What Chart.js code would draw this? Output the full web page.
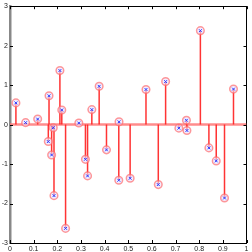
<!DOCTYPE html>
<html>
<head>
<meta charset="utf-8">
<script src="https://cdn.jsdelivr.net/npm/chart.js@4/dist/chart.umd.min.js"></script>
<style>
  html, body { margin: 0; padding: 0; background: #fff; }
  #wrap { width: 252px; height: 252px; }
</style>
</head>
<body>
<div id="wrap"><canvas id="c" width="252" height="252"></canvas></div>
<script>
const stemX = [0.025, 0.066, 0.117, 0.162, 0.165, 0.176, 0.183, 0.186, 0.211, 0.219, 0.235,
               0.291, 0.319, 0.328, 0.346, 0.377, 0.408, 0.460, 0.461, 0.508, 0.575, 0.627,
               0.658, 0.714, 0.746, 0.748, 0.805, 0.841, 0.872, 0.907, 0.945];
const stemY = [0.55, 0.05, 0.14, -0.43, 0.73, -0.77, -0.08, -1.80, 1.37, 0.37, -2.63,
               0.04, -0.88, -1.30, 0.38, 0.97, -0.64, -1.41, 0.07, -1.36, 0.89, -1.52,
               1.09, -0.09, 0.11, -0.15, 2.38, -0.59, -0.92, -1.86, 0.90];
const xTicks = [0, 0.1, 0.2, 0.3, 0.4, 0.5, 0.6, 0.7, 0.8, 0.9, 1];
const yTicks = [-3, -2, -1, 0, 1, 2, 3];

// stems as one line dataset, broken by gaps
const stems = [];
stemX.forEach((x, i) => {
    stems.push({x: x, y: 0});
    stems.push({x: x, y: stemY[i]});
    stems.push({x: x, y: null});
});
const points = stemX.map((x, i) => ({x: x, y: stemY[i]}));

// MATLAB style ticks pointing into the box
const innerTicks = {
    id: 'innerTicks',
    afterDraw(chart) {
        const {ctx, chartArea: a, scales} = chart;
        ctx.save();
        ctx.strokeStyle = '#000';
        ctx.lineWidth = 1;
        ctx.beginPath();
        xTicks.forEach(v => {
            const px = Math.round(scales.x.getPixelForValue(v)) + 0.5;
            ctx.moveTo(px, a.bottom); ctx.lineTo(px, a.bottom - 3);
            ctx.moveTo(px, a.top); ctx.lineTo(px, a.top + 3);
        });
        yTicks.forEach(v => {
            const py = Math.round(scales.y.getPixelForValue(v)) + 0.5;
            ctx.moveTo(a.left, py); ctx.lineTo(a.left + 3, py);
            ctx.moveTo(a.right, py); ctx.lineTo(a.right - 3, py);
        });
        ctx.stroke();
        ctx.restore();
    }
};

const tickFont = {family: 'Liberation Sans', size: 7};
const noGrid = {display: false, drawTicks: false};

new Chart(document.getElementById('c'), {
    type: 'scatter',
    data: {
        datasets: [
            {
                type: 'scatter',
                data: points,
                pointStyle: 'crossRot',
                pointRadius: 2,
                borderColor: '#2a3cff',
                borderWidth: 1,
                order: 0
            },
            {
                type: 'scatter',
                data: points,
                pointStyle: 'circle',
                pointRadius: 3.8,
                borderColor: 'rgba(255,100,100,0.65)',
                backgroundColor: 'rgba(235,225,255,0.6)',
                borderWidth: 1.5,
                order: 1
            },
            {
                type: 'line',
                data: stems,
                borderColor: 'rgba(255,30,30,0.9)',
                borderWidth: 1.5,
                pointRadius: 0,
                spanGaps: false,
                order: 2
            },
            {
                type: 'line',
                data: [{x: 0, y: 0}, {x: 1, y: 0}],
                borderColor: 'rgba(255,120,120,0.85)',
                borderWidth: 2.5,
                pointRadius: 0,
                order: 3
            }
        ]
    },
    options: {
        responsive: false,
        devicePixelRatio: 1,
        animation: false,
        layout: {padding: 0},
        plugins: {legend: {display: false}, tooltip: {enabled: false}},
        scales: {
            x: {
                type: 'linear', position: 'bottom', min: 0, max: 1,
                afterBuildTicks: s => { s.ticks = xTicks.map(v => ({value: v})); },
                afterFit: s => { s.height = 9; },
                ticks: {font: tickFont, color: '#222', padding: 2, maxRotation: 0,
                        callback: v => String(v)},
                grid: noGrid,
                border: {display: true, color: '#000', width: 1}
            },
            x2: {
                type: 'linear', position: 'top', min: 0, max: 1,
                afterFit: s => { s.height = 5; },
                ticks: {display: false},
                grid: noGrid,
                border: {display: true, color: '#000', width: 1}
            },
            y: {
                type: 'linear', position: 'left', min: -3, max: 3,
                afterBuildTicks: s => { s.ticks = yTicks.map(v => ({value: v})); },
                afterFit: s => { s.width = 10; },
                ticks: {font: tickFont, color: '#222', padding: 2,
                        callback: v => String(v)},
                grid: noGrid,
                border: {display: true, color: '#888', width: 2.5}
            },
            y2: {
                type: 'linear', position: 'right', min: -3, max: 3,
                afterFit: s => { s.width = 5; },
                ticks: {display: false},
                grid: noGrid,
                border: {display: true, color: '#000', width: 1}
            }
        }
    },
    plugins: [innerTicks]
});
</script>
</body>
</html>
